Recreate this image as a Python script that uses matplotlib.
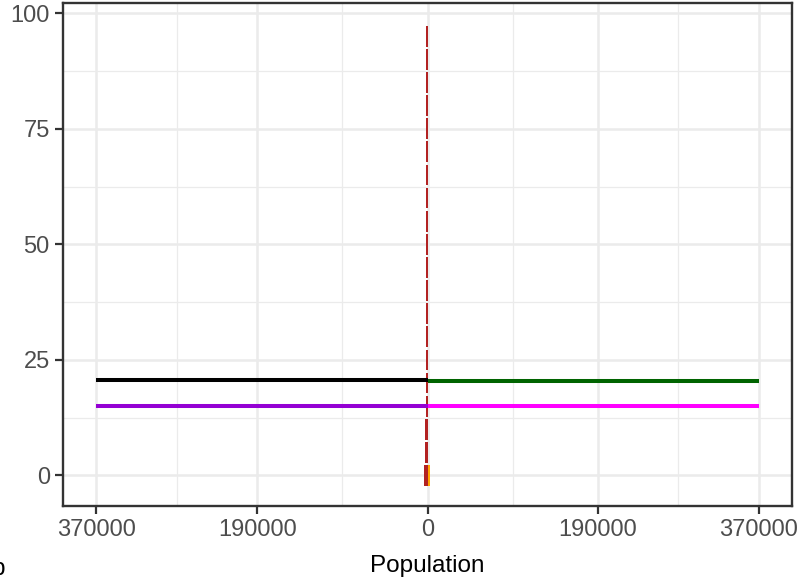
import matplotlib
matplotlib.use("Agg")
import matplotlib.pyplot as plt
from matplotlib.ticker import FixedLocator, FuncFormatter

plt.rcParams["font.family"] = ["Liberation Sans", "DejaVu Sans"]

# Data
age_groups = [0, 5, 10, 15, 20, 25, 30, 35, 40, 45, 50, 55, 60, 65, 70, 75, 80, 85, 90, 95]
male_pop = [3400, 2300, 2300, 2200, 1400, 1300, 1300, 1300, 1300, 1300, 1300, 1300, 1300, 1300, 1300, 1300, 1300, 1200, 1200, 1200]
female_pop = [2400, 1000, 1000, 1000, 1000, 400, 300, 300, 300, 300, 300, 300, 300, 300, 300, 300, 300, 300, 300, 300]
ref_values = [20.6, 20.4, 15.0, 15.0]
ref_sides = [-1, 1, -1, 1]
ref_colors = ["#000000", "#006400", "#9400D3", "#FF00FF"]
line_extent = 370000
x_ticks = [-370000, -190000, 0, 190000, 370000]
x_minor = [-280000, -95000, 95000, 280000]
y_ticks = [0, 25, 50, 75, 100]
y_minor = [12.5, 37.5, 62.5, 87.5]

fig = plt.figure(figsize=(7.98, 5.78), dpi=100)
ax = fig.add_axes([63/798, 1-506/578, (792-63)/798, (506-3)/578])

ax.set_facecolor("white")
for v in x_minor:
    ax.axvline(v, color="#EBEBEB", lw=0.9, zorder=0)
for v in y_minor:
    ax.axhline(v, color="#EBEBEB", lw=0.9, zorder=0)
for v in x_ticks:
    ax.axvline(v, color="#EBEBEB", lw=1.8, zorder=0)
for v in y_ticks:
    ax.axhline(v, color="#EBEBEB", lw=1.8, zorder=0)

ax.barh(age_groups, [-m for m in male_pop], height=4.5, color="#B22222", zorder=2)
ax.barh(age_groups, female_pop, height=4.5, color="#FFA500", zorder=2)

for val, side, col in zip(ref_values, ref_sides, ref_colors):
    ax.plot([0, side*line_extent], [val, val], color=col, lw=2.9, solid_capstyle="butt", zorder=3)

ax.set_xlim(-407000, 407000)
ax.set_ylim(-6.6, 102.2)
ax.xaxis.set_major_locator(FixedLocator(x_ticks))
ax.yaxis.set_major_locator(FixedLocator(y_ticks))
ax.xaxis.set_major_formatter(FuncFormatter(lambda v, p: f"{abs(int(round(v)))}"))
ax.yaxis.set_major_formatter(FuncFormatter(lambda v, p: f"{int(v)}"))
ax.tick_params(axis="both", colors="#333333", length=5.5, width=1.6, labelsize=17, labelcolor="#4D4D4D", pad=4)
for s in ax.spines.values():
    s.set_color("#333333")
    s.set_linewidth(1.7)

fig.text(427.5/798, 1-572/578, "Population", ha="center", va="baseline", fontsize=17.5, color="black")
fig.text(5/798, 1-569/578, "b", ha="right", va="center", fontsize=17.5, color="black")

fig.savefig("out.png", dpi=100)
